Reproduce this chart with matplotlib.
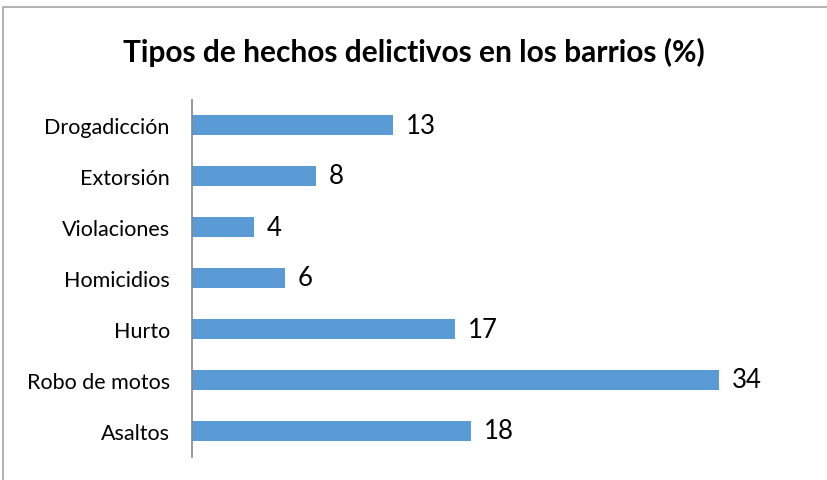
import matplotlib.pyplot as plt
from matplotlib.patches import Rectangle

# data
categorias = ['Asaltos', 'Robo de motos', 'Hurto', 'Homicidios', 'Violaciones', 'Extorsión', 'Drogadicción']
porcentajes = [18, 34, 17, 6, 4, 8, 13]
titulo = 'Tipos de hechos delictivos en los barrios (%)'

plt.rcParams['font.family'] = ['Lato', 'DejaVu Sans']

W, H = 828, 481
fig = plt.figure(figsize=(W / 100, H / 100), dpi=100)

# grey outer border (only top/left show, the rest is cropped off)
fig.patches.append(Rectangle((3 / W, -0.1), 1.2, (H - 8) / H + 0.1,
                             transform=fig.transFigure, fill=False,
                             edgecolor='#a6a6a6', linewidth=1.2))

ax = fig.add_axes([192 / W, 23.5 / H, 620 / W, 357 / H])
bars = ax.barh(range(len(categorias)), porcentajes, height=0.41, color='#5b9bd5')
ax.set_xlim(0, 40)
ax.set_ylim(-0.5, len(categorias) - 0.5)
ax.set_yticks(range(len(categorias)))
ax.set_yticklabels(categorias, fontsize=15.5)
ax.tick_params(axis='y', length=0, pad=16)
ax.set_xticks([])
for s in ['top', 'right', 'bottom']:
    ax.spines[s].set_visible(False)
ax.spines['left'].set_color('#868686')
ax.spines['left'].set_linewidth(1.2)

for b, v in zip(bars, porcentajes):
    ax.text(b.get_width() + 0.8, b.get_y() + b.get_height() / 2, str(v),
            va='center', ha='left', fontsize=18.5)

fig.text(0.5, 1 - 52 / H, titulo, ha='center', va='center',
         fontsize=21.5, fontweight='bold')

fig.savefig('out.png', dpi=100)
